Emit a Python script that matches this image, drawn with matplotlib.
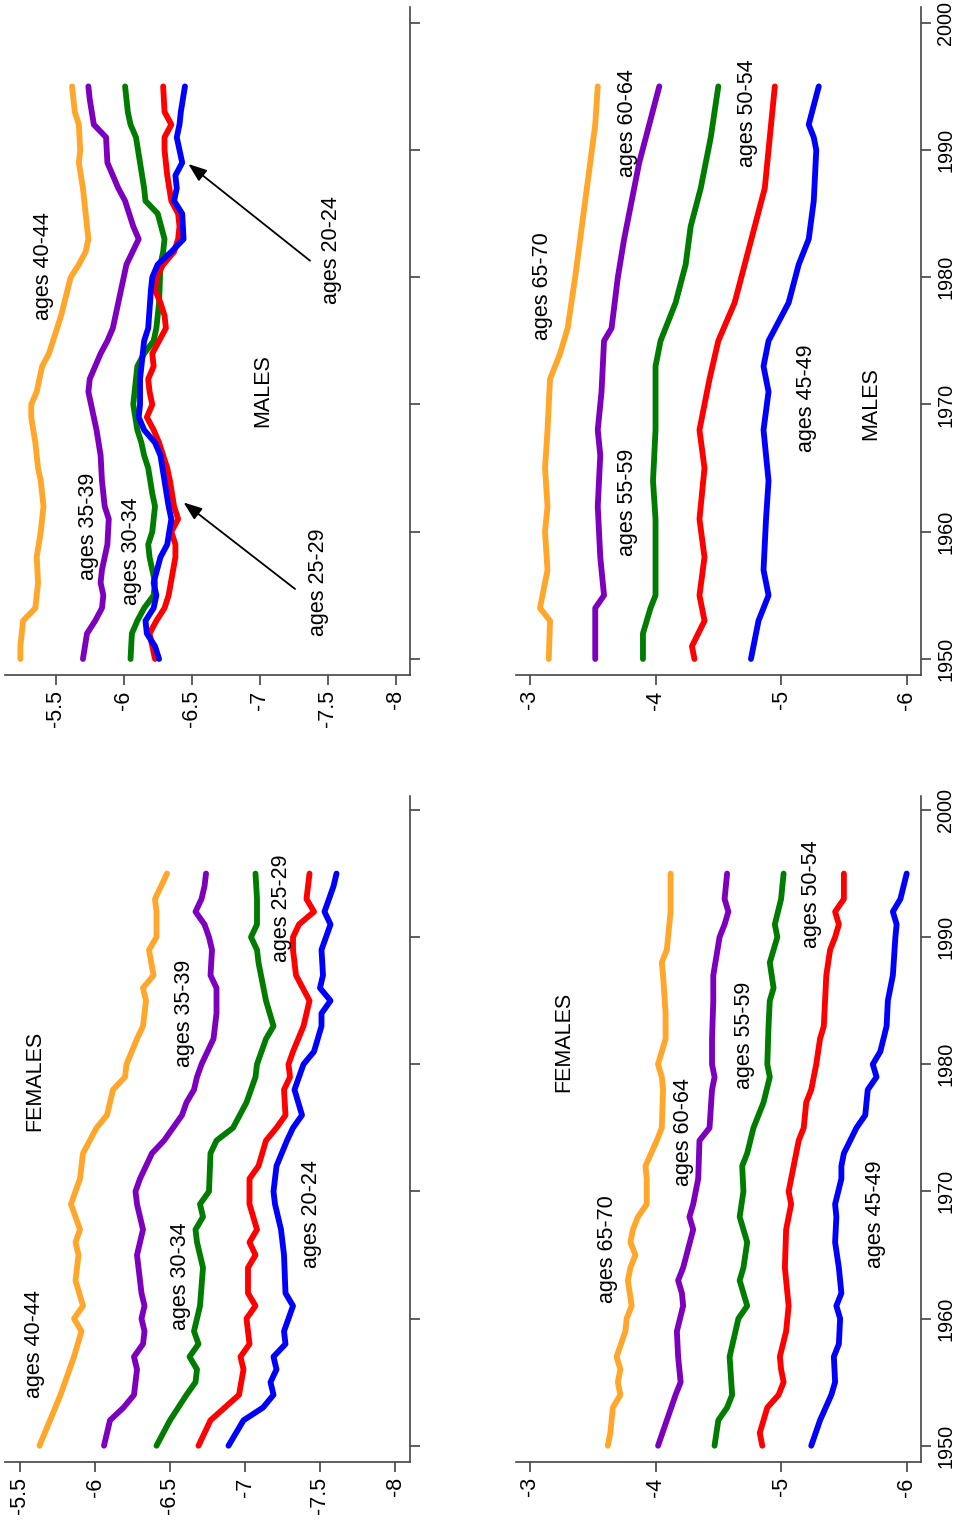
import matplotlib
matplotlib.use("Agg")
import matplotlib.pyplot as plt

plt.rcParams['font.family'] = ['Liberation Sans', 'DejaVu Sans']
plt.rcParams['axes.unicode_minus'] = False

# ---- log death rates, females 20-44 ----
f4044_yr = [1950, 1952, 1954, 1956, 1957, 1959, 1960, 1961, 1963, 1965, 1966, 1967, 1969, 1971, 1973, 1975,
            1976, 1978, 1979, 1980, 1982, 1983, 1985, 1986, 1987, 1989, 1990, 1992, 1993, 1994, 1995]
f4044 = [-5.63, -5.70, -5.77, -5.83, -5.86, -5.91, -5.86, -5.92, -5.87, -5.89, -5.87, -5.90, -5.84, -5.90, -5.92, -6.01,
         -6.08, -6.12, -6.20, -6.21, -6.28, -6.32, -6.34, -6.32, -6.39, -6.36, -6.41, -6.41, -6.40, -6.44, -6.48]
f3539_yr = [1950, 1952, 1953, 1954, 1956, 1957, 1958, 1959, 1960, 1961, 1962, 1965, 1966, 1967, 1969, 1970, 1971,
            1972, 1973, 1974, 1975, 1976, 1977, 1978, 1979, 1980, 1982, 1984, 1986, 1987, 1989, 1990, 1991, 1992,
            1993, 1994, 1995]
f3539 = [-6.06, -6.10, -6.19, -6.26, -6.28, -6.26, -6.32, -6.33, -6.31, -6.33, -6.31, -6.28, -6.30, -6.32, -6.28,
         -6.27, -6.30, -6.34, -6.38, -6.46, -6.52, -6.58, -6.61, -6.66, -6.68, -6.71, -6.79, -6.81, -6.81, -6.77,
         -6.78, -6.76, -6.73, -6.67, -6.71, -6.73, -6.74]
f3034_yr = [1950, 1952, 1954, 1955, 1956, 1957, 1958, 1959, 1961, 1964, 1966, 1967, 1968, 1969, 1970, 1973, 1974,
            1975, 1977, 1979, 1980, 1982, 1983, 1985, 1988, 1989, 1990, 1991, 1993, 1995]
f3034 = [-6.41, -6.50, -6.61, -6.67, -6.68, -6.63, -6.69, -6.66, -6.70, -6.72, -6.68, -6.67, -6.72, -6.70, -6.76,
         -6.77, -6.81, -6.92, -7.01, -7.07, -7.08, -7.14, -7.19, -7.14, -7.09, -7.08, -7.04, -7.08, -7.08, -7.07]
f2529_yr = [1950, 1952, 1954, 1956, 1957, 1958, 1960, 1961, 1962, 1964, 1965, 1966, 1967, 1969, 1971, 1972, 1974,
            1975, 1976, 1978, 1979, 1980, 1981, 1983, 1985, 1987, 1989, 1990, 1991, 1992, 1993, 1995]
f2529 = [-6.69, -6.77, -6.96, -6.99, -6.97, -7.03, -7.01, -7.07, -7.02, -7.02, -7.07, -7.03, -7.08, -7.03, -7.03,
         -7.09, -7.14, -7.21, -7.27, -7.26, -7.30, -7.29, -7.32, -7.39, -7.43, -7.34, -7.32, -7.32, -7.36, -7.46,
         -7.41, -7.43]
f2024_yr = [1950, 1952, 1953, 1954, 1955, 1956, 1957, 1958, 1959, 1961, 1962, 1965, 1967, 1969, 1970, 1972, 1974,
            1975, 1976, 1978, 1980, 1981, 1983, 1984, 1985, 1986, 1987, 1989, 1990, 1991, 1992, 1994, 1995]
f2024 = [-6.89, -6.99, -7.12, -7.19, -7.17, -7.21, -7.19, -7.27, -7.26, -7.32, -7.27, -7.26, -7.24, -7.20, -7.19,
         -7.21, -7.28, -7.32, -7.38, -7.33, -7.39, -7.46, -7.51, -7.51, -7.57, -7.50, -7.52, -7.51, -7.54, -7.57,
         -7.53, -7.59, -7.61]

# ---- females 45-70 ----
f6570_yr = [1950, 1951, 1953, 1954, 1955, 1956, 1957, 1959, 1960, 1961, 1963, 1964, 1965, 1966, 1967, 1968, 1969,
            1971, 1972, 1974, 1975, 1978, 1979, 1980, 1982, 1984, 1987, 1988, 1989, 1992, 1995]
f6570 = [-3.62, -3.64, -3.66, -3.72, -3.70, -3.72, -3.69, -3.76, -3.77, -3.81, -3.78, -3.80, -3.84, -3.80, -3.82,
         -3.86, -3.93, -3.93, -3.92, -4.01, -4.05, -4.06, -4.05, -4.02, -4.08, -4.08, -4.06, -4.05, -4.09, -4.12,
         -4.12]
f6064_yr = [1950, 1952, 1954, 1955, 1957, 1959, 1961, 1962, 1963, 1964, 1967, 1968, 1969, 1971, 1974, 1975, 1978,
            1979, 1980, 1982, 1985, 1987, 1990, 1991, 1992, 1993, 1995]
f6064 = [-4.02, -4.09, -4.16, -4.20, -4.18, -4.17, -4.22, -4.21, -4.18, -4.22, -4.30, -4.27, -4.30, -4.34, -4.35,
         -4.43, -4.45, -4.47, -4.45, -4.45, -4.46, -4.46, -4.51, -4.55, -4.58, -4.55, -4.57]
f5559_yr = [1950, 1952, 1953, 1954, 1957, 1960, 1961, 1963, 1964, 1966, 1968, 1970, 1972, 1973, 1975, 1977, 1979,
            1980, 1983, 1985, 1986, 1988, 1990, 1991, 1993, 1995]
f5559 = [-4.47, -4.50, -4.57, -4.61, -4.59, -4.66, -4.73, -4.67, -4.70, -4.73, -4.67, -4.70, -4.69, -4.73, -4.78,
         -4.86, -4.91, -4.89, -4.90, -4.91, -4.94, -4.91, -4.97, -4.95, -5.00, -5.02]
f5054_yr = [1950, 1951, 1953, 1954, 1955, 1956, 1957, 1959, 1961, 1964, 1967, 1969, 1970, 1972, 1974, 1975, 1977,
            1978, 1980, 1982, 1983, 1985, 1987, 1989, 1990, 1991, 1992, 1993, 1995]
f5054 = [-4.85, -4.83, -4.89, -4.98, -5.02, -5.00, -4.99, -5.04, -5.06, -5.03, -5.04, -5.08, -5.06, -5.10, -5.14,
         -5.18, -5.20, -5.24, -5.28, -5.31, -5.34, -5.35, -5.36, -5.39, -5.43, -5.46, -5.43, -5.50, -5.50]
f4549_yr = [1950, 1952, 1954, 1955, 1957, 1958, 1960, 1961, 1962, 1964, 1966, 1968, 1969, 1971, 1972, 1973, 1975,
            1976, 1978, 1979, 1980, 1981, 1983, 1985, 1987, 1990, 1991, 1992, 1993, 1995]
f4549 = [-5.24, -5.31, -5.40, -5.43, -5.42, -5.46, -5.47, -5.44, -5.48, -5.46, -5.43, -5.44, -5.43, -5.48, -5.48,
         -5.50, -5.60, -5.67, -5.69, -5.76, -5.73, -5.79, -5.84, -5.85, -5.89, -5.91, -5.92, -5.89, -5.95, -6.00]

# ---- males 20-44 ----
m4044_yr = [1950, 1951, 1953, 1954, 1956, 1958, 1960, 1962, 1964, 1965, 1967, 1969, 1970, 1971, 1973, 1974, 1975,
            1977, 1980, 1981, 1982, 1983, 1985, 1987, 1989, 1990, 1992, 1993, 1995]
m4044 = [-5.24, -5.24, -5.26, -5.35, -5.37, -5.36, -5.39, -5.41, -5.39, -5.37, -5.35, -5.32, -5.32, -5.36, -5.40,
         -5.45, -5.48, -5.54, -5.61, -5.67, -5.72, -5.74, -5.72, -5.70, -5.67, -5.68, -5.67, -5.64, -5.62]
m3539_yr = [1950, 1952, 1953, 1954, 1955, 1956, 1957, 1959, 1961, 1962, 1964, 1966, 1968, 1969, 1971, 1972, 1973,
            1974, 1975, 1976, 1977, 1978, 1981, 1983, 1984, 1986, 1987, 1988, 1989, 1991, 1992, 1994, 1995]
m3539 = [-5.70, -5.73, -5.79, -5.84, -5.85, -5.83, -5.84, -5.88, -5.89, -5.86, -5.84, -5.83, -5.80, -5.78, -5.74,
         -5.75, -5.79, -5.83, -5.88, -5.92, -5.94, -5.96, -6.02, -6.11, -6.07, -6.01, -5.96, -5.92, -5.88, -5.87,
         -5.78, -5.75, -5.74]
m3034_yr = [1950, 1952, 1953, 1954, 1955, 1956, 1958, 1959, 1960, 1962, 1963, 1965, 1966, 1967, 1968, 1970, 1971,
            1973, 1974, 1975, 1976, 1978, 1981, 1982, 1983, 1985, 1986, 1987, 1989, 1991, 1992, 1993, 1995]
m3034 = [-6.05, -6.06, -6.10, -6.15, -6.22, -6.23, -6.19, -6.18, -6.21, -6.23, -6.21, -6.18, -6.15, -6.13, -6.10,
         -6.07, -6.08, -6.10, -6.15, -6.22, -6.24, -6.26, -6.27, -6.29, -6.30, -6.25, -6.16, -6.15, -6.12, -6.09,
         -6.05, -6.03, -6.01]
m2529_yr = [1950, 1952, 1953, 1954, 1955, 1958, 1959, 1960, 1961, 1962, 1964, 1965, 1966, 1967, 1968, 1969, 1970,
            1971, 1972, 1973, 1974, 1975, 1976, 1977, 1978, 1979, 1980, 1981, 1982, 1983, 1984, 1985, 1986, 1988,
            1990, 1991, 1992, 1993, 1995]
m2529 = [-6.23, -6.19, -6.24, -6.30, -6.33, -6.38, -6.38, -6.35, -6.40, -6.37, -6.34, -6.32, -6.29, -6.26, -6.22,
         -6.17, -6.21, -6.19, -6.18, -6.22, -6.21, -6.26, -6.31, -6.30, -6.27, -6.23, -6.24, -6.29, -6.37, -6.40,
         -6.41, -6.40, -6.35, -6.32, -6.30, -6.30, -6.35, -6.30, -6.29]
m2024_yr = [1950, 1951, 1952, 1953, 1954, 1955, 1956, 1958, 1959, 1961, 1962, 1964, 1966, 1967, 1968, 1969, 1970,
            1972, 1973, 1975, 1976, 1979, 1980, 1981, 1982, 1983, 1985, 1986, 1987, 1988, 1989, 1990, 1991, 1992,
            1993, 1995]
m2024 = [-6.26, -6.23, -6.17, -6.16, -6.22, -6.24, -6.22, -6.27, -6.32, -6.35, -6.33, -6.30, -6.27, -6.23, -6.15,
         -6.11, -6.12, -6.12, -6.13, -6.15, -6.18, -6.20, -6.21, -6.25, -6.35, -6.44, -6.43, -6.37, -6.39, -6.38,
         -6.43, -6.41, -6.39, -6.41, -6.42, -6.45]

# ---- males 45-70 ----
m6570_yr = [1950, 1953, 1954, 1957, 1960, 1962, 1965, 1968, 1972, 1974, 1976, 1978, 1980, 1983, 1986, 1989, 1992, 1995]
m6570 = [-3.15, -3.16, -3.08, -3.14, -3.12, -3.14, -3.12, -3.14, -3.16, -3.24, -3.30, -3.33, -3.36, -3.40, -3.44,
         -3.48, -3.52, -3.54]
m6064_yr = [1950, 1954, 1955, 1958, 1962, 1966, 1968, 1971, 1975, 1976, 1980, 1983, 1986, 1989, 1992, 1995]
m6064 = [-3.52, -3.52, -3.59, -3.56, -3.54, -3.56, -3.54, -3.57, -3.59, -3.65, -3.70, -3.75, -3.81, -3.87, -3.95,
         -4.03]
m5559_yr = [1950, 1952, 1954, 1955, 1958, 1961, 1964, 1968, 1973, 1975, 1978, 1981, 1984, 1987, 1991, 1995]
m5559 = [-3.90, -3.90, -3.96, -4.00, -4.00, -4.00, -3.98, -4.00, -4.00, -4.04, -4.16, -4.24, -4.28, -4.36, -4.44, -4.50]
m5054_yr = [1950, 1951, 1953, 1955, 1958, 1961, 1965, 1968, 1972, 1975, 1978, 1981, 1984, 1987, 1991, 1995]
m5054 = [-4.31, -4.29, -4.39, -4.35, -4.39, -4.35, -4.39, -4.35, -4.43, -4.50, -4.63, -4.71, -4.79, -4.87, -4.91, -4.95]
m4549_yr = [1950, 1953, 1955, 1957, 1961, 1964, 1968, 1971, 1973, 1975, 1978, 1981, 1983, 1986, 1990, 1991, 1992, 1995]
m4549 = [-4.76, -4.82, -4.90, -4.86, -4.88, -4.90, -4.86, -4.90, -4.86, -4.90, -5.06, -5.14, -5.22, -5.26, -5.28,
         -5.26, -5.22, -5.30]

year_ticks = [1950, 1960, 1970, 1980, 1990, 2000]
young_ticks = [-5.5, -6, -6.5, -7, -7.5, -8]
young_labels = ['-5.5', '-6', '-6.5', '-7', '-7.5', '-8']
old_ticks = [-3, -4, -5, -6]
old_labels = ['-3', '-4', '-5', '-6']

ORANGE = '#FFA62B'
PURPLE = '#7D00BE'
GREEN = '#007D00'
RED = '#FF0000'
BLUE = '#0000FF'
FS = 15.5

W, H = 963, 1529
fig = plt.figure(figsize=(W / 100, H / 100), dpi=100)


def panel(x0, x1, y0, y1, xlim, ylim, ticks, labels, year_labels):
    # pixel box (from top-left) -> figure fraction
    ax = fig.add_axes([x0 / W, 1 - y1 / H, (x1 - x0) / W, (y1 - y0) / H])
    ax.set_xlim(*xlim)
    ax.set_ylim(*ylim)
    for s in ('top', 'left'):
        ax.spines[s].set_visible(False)
    for s in ('bottom', 'right'):
        ax.spines[s].set_color('#444444')
        ax.spines[s].set_linewidth(1.2)
    ax.yaxis.tick_right()
    ax.set_yticks(year_ticks)
    if year_labels:
        ax.set_yticklabels([str(y) for y in year_ticks], rotation=90, va='center', fontsize=14.3)
    else:
        ax.set_yticklabels([])
    ax.set_xticks(ticks)
    ax.set_xticklabels(labels, rotation=90, fontsize=FS)
    ax.tick_params(axis='both', length=7, width=1.1, color='#333333', pad=4)
    return ax


def draw(ax, yr, val, color):
    ax.plot(val, yr, color=color, lw=4.2, solid_capstyle='round', solid_joinstyle='round')


def label(ax, x, y, s):
    ax.text(x, y, s, rotation=90, ha='center', va='center', fontsize=FS)


def arrow(ax, tail, tip):
    ax.annotate('', xy=tip, xytext=tail,
                arrowprops=dict(arrowstyle='-|>,head_length=0.8,head_width=0.3', color='black',
                                lw=1.3, shrinkA=0, shrinkB=0, mutation_scale=14))


TOP_BOX = (7, 675)
BOT_BOX = (796, 1462)
TOP_YEARS = (1948.74, 2001.24)
BOT_YEARS = (1948.72, 2001.1)

# males 20-44
ax = panel(5, 410, *TOP_BOX, (-5.127, -8.105), TOP_YEARS, young_ticks, young_labels, False)
for yr, v, c in [(m4044_yr, m4044, ORANGE), (m3539_yr, m3539, PURPLE), (m3034_yr, m3034, GREEN),
                 (m2529_yr, m2529, RED), (m2024_yr, m2024, BLUE)]:
    draw(ax, yr, v, c)
label(ax, -7.02, 1971.1, 'MALES')
label(ax, -5.41, 1980.9, 'ages 40-44')
label(ax, -5.74, 1960.4, 'ages 35-39')
label(ax, -6.06, 1958.5, 'ages 30-34')
label(ax, -7.43, 1956.0, 'ages 25-29')
label(ax, -7.53, 1982.1, 'ages 20-24')
arrow(ax, (-7.37, 1981.3), (-6.475, 1988.9))
arrow(ax, (-7.26, 1955.5), (-6.44, 1962.3))

# males 45-70
ax = panel(516, 921, *TOP_BOX, (-2.889, -6.114), TOP_YEARS, old_ticks, old_labels, True)
for yr, v, c in [(m6570_yr, m6570, ORANGE), (m6064_yr, m6064, PURPLE), (m5559_yr, m5559, GREEN),
                 (m5054_yr, m5054, RED), (m4549_yr, m4549, BLUE)]:
    draw(ax, yr, v, c)
label(ax, -5.71, 1970.1, 'MALES')
label(ax, -3.10, 1979.3, 'ages 65-70')
label(ax, -3.78, 1992.1, 'ages 60-64')
label(ax, -3.78, 1962.3, 'ages 55-59')
label(ax, -4.73, 1992.9, 'ages 50-54')
label(ax, -5.20, 1970.5, 'ages 45-49')

# females 20-44
ax = panel(5, 410, *BOT_BOX, (-5.4, -8.1), BOT_YEARS, young_ticks, young_labels, False)
for yr, v, c in [(f4044_yr, f4044, ORANGE), (f3539_yr, f3539, PURPLE), (f3034_yr, f3034, GREEN),
                 (f2529_yr, f2529, RED), (f2024_yr, f2024, BLUE)]:
    draw(ax, yr, v, c)
label(ax, -5.60, 1978.7, 'FEMALES')
label(ax, -5.60, 1958.0, 'ages 40-44')
label(ax, -6.60, 1984.0, 'ages 35-39')
label(ax, -6.57, 1963.3, 'ages 30-34')
label(ax, -7.24, 1992.3, 'ages 25-29')
label(ax, -7.44, 1968.2, 'ages 20-24')

# females 45-70
ax = panel(516, 921, *BOT_BOX, (-2.889, -6.114), BOT_YEARS, old_ticks, old_labels, True)
for yr, v, c in [(f6570_yr, f6570, ORANGE), (f6064_yr, f6064, PURPLE), (f5559_yr, f5559, GREEN),
                 (f5054_yr, f5054, RED), (f4549_yr, f4549, BLUE)]:
    draw(ax, yr, v, c)
label(ax, -3.27, 1981.8, 'FEMALES')
label(ax, -3.62, 1965.5, 'ages 65-70')
label(ax, -4.22, 1974.7, 'ages 60-64')
label(ax, -4.71, 1982.3, 'ages 55-59')
label(ax, -5.24, 1993.4, 'ages 50-54')
label(ax, -5.75, 1968.2, 'ages 45-49')

fig.savefig('out.png', dpi=100)
